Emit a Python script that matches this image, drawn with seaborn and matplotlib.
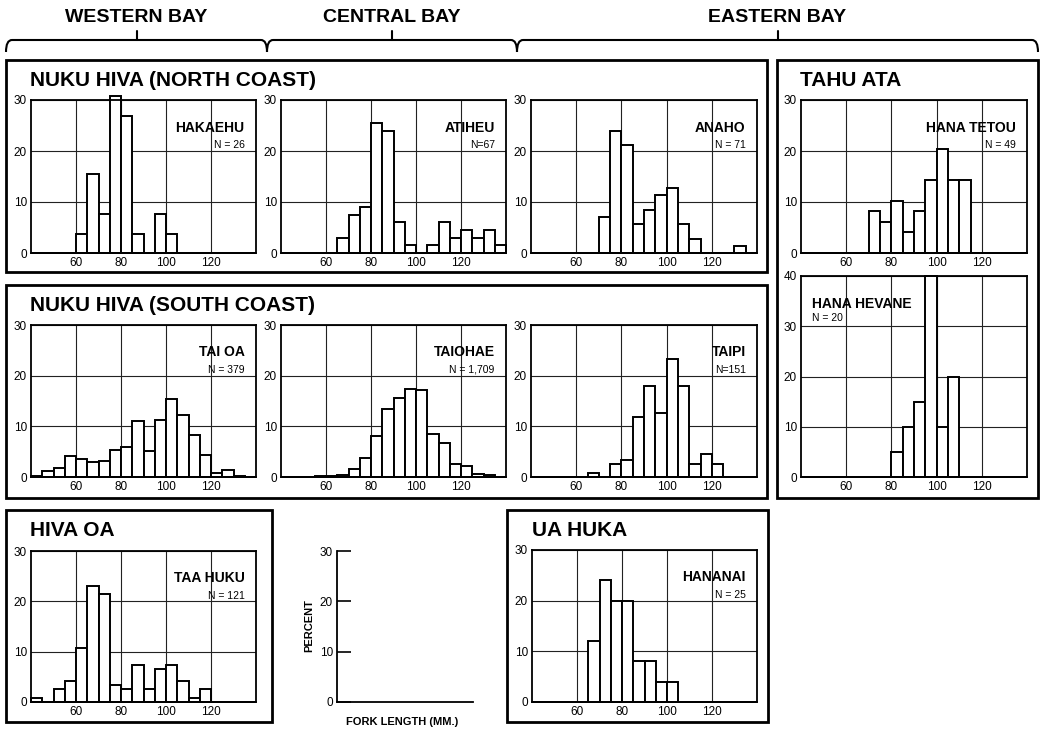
import numpy as np
import pandas as pd
import matplotlib
matplotlib.use("Agg")
import matplotlib.pyplot as plt
import seaborn as sns
from matplotlib.patches import Rectangle, PathPatch
from matplotlib.path import Path

# ---------------- data (percent per 5-mm fork-length class, 40-140 mm) -----
bin_edges = list(range(40, 145, 5))
bin_centers = [e + 2.5 for e in bin_edges[:-1]]

hakaehu = [0, 0, 0, 0, 3.8, 15.4, 7.7, 30.8, 26.9, 3.8, 0, 7.7, 3.8, 0, 0, 0, 0, 0, 0, 0]
atiheu = [0, 0, 0, 0, 0, 3.0, 7.5, 9.0, 25.4, 23.9, 6.0, 1.5, 0, 1.5, 6.0, 3.0, 4.5, 3.0, 4.5, 1.5]
anaho = [0, 0, 0, 0, 0, 0, 7.0, 23.9, 21.1, 5.6, 8.5, 11.3, 12.7, 5.6, 2.8, 0, 0, 0, 1.4, 0]
hana_tetou = [0, 0, 0, 0, 0, 0, 8.2, 6.1, 10.2, 4.1, 8.2, 14.3, 20.4, 14.3, 14.3, 0, 0, 0, 0, 0]
tai_oa = [0.2, 1.2, 1.7, 4.1, 3.5, 3.05, 3.25, 5.3, 6.0, 11.1, 5.1, 11.3, 15.3, 12.2, 8.2, 4.3, 0.7, 1.3, 0.2, 0]
taiohae = [0, 0, 0, 0.1, 0.2, 0.4, 1.5, 3.7, 8.1, 13.4, 15.6, 17.3, 17.1, 8.4, 6.8, 2.6, 2.1, 0.6, 0.4, 0]
taipi = [0, 0, 0, 0, 0, 0.7, 0, 2.6, 3.3, 11.9, 17.9, 12.6, 23.2, 17.9, 2.6, 4.6, 2.6, 0, 0, 0]
hana_hevane = [0, 0, 0, 0, 0, 0, 0, 0, 5, 10, 15, 40, 10, 20, 0, 0, 0, 0, 0, 0]
taa_huku = [0.8, 0, 2.5, 4.1, 10.7, 23.1, 21.5, 3.3, 2.5, 7.4, 2.5, 6.6, 7.4, 4.1, 0.8, 2.5, 0, 0, 0, 0]
hananai = [0, 0, 0, 0, 0, 12, 24, 20, 20, 8, 8, 4, 4, 0, 0, 0, 0, 0, 0, 0]

station_names = ["HAKAEHU", "ATIHEU", "ANAHO", "HANA TETOU", "TAI OA", "TAIOHAE",
                 "TAIPI", "HANA HEVANE", "TAA HUKU", "HANANAI"]
n_labels = ["N = 26", "N=67", "N = 71", "N = 49", "N = 379", "N = 1,709",
            "N=151", "N = 20", "N = 121", "N = 25"]
x_ticks = [60, 80, 100, 120]
group_titles = ["NUKU HIVA (NORTH COAST)", "TAHU ATA", "NUKU HIVA (SOUTH COAST)",
                "HIVA OA", "UA HUKA"]
bay_labels = ["WESTERN BAY", "CENTRAL BAY", "EASTERN BAY"]

# ---------------- style ----------------
sns.set_style("white")
plt.rcParams["font.family"] = ["Liberation Sans", "DejaVu Sans"]
plt.rcParams["text.color"] = "black"
plt.rcParams["axes.labelcolor"] = "black"
plt.rcParams["xtick.color"] = "black"
plt.rcParams["ytick.color"] = "black"

W, H = 1044, 730
fig = plt.figure(figsize=(W / 100, H / 100), dpi=100)
fig.patch.set_facecolor("white")


def add_ax(l, t, r, b):
    return fig.add_axes([l / W, 1 - b / H, (r - l) / W, (b - t) / H])


def px(x, y):
    return (x / W, 1 - y / H)


panels = [
    (hakaehu, (31, 100, 256, 253), 30, "right"),
    (atiheu, (281, 100, 506, 253), 30, "right"),
    (anaho, (531, 100, 757, 253), 30, "right"),
    (hana_tetou, (801, 100, 1027, 253), 30, "right"),
    (tai_oa, (31, 325, 256, 477), 30, "right"),
    (taiohae, (281, 325, 506, 477), 30, "right"),
    (taipi, (531, 325, 757, 477), 30, "right"),
    (hana_hevane, (801, 276, 1027, 477), 40, "left"),
    (taa_huku, (31, 551, 256, 702), 30, "right"),
    (hananai, (532, 550, 757, 702), 30, "right"),
]

for i, (pct, rect, ymax, side) in enumerate(panels):
    ax = add_ax(*rect)
    df = pd.DataFrame({"length": bin_centers, "pct": pct})
    sns.histplot(data=df, x="length", weights="pct", bins=bin_edges, ax=ax,
                 color="white", edgecolor="black", linewidth=1.4, alpha=1,
                 zorder=2, clip_on=False)
    ax.set_xlim(40, 140)
    ax.set_ylim(0, ymax)
    ax.set_xticks(x_ticks)
    ax.set_yticks(list(range(0, ymax + 1, 10)))
    ax.set_xticklabels([str(v) for v in x_ticks])
    ax.grid(True, color="#222222", linewidth=0.8)
    ax.set_axisbelow(True)
    ax.tick_params(length=0, labelsize=8.5, pad=3, colors="black")
    ax.set_xlabel("")
    ax.set_ylabel("")
    for s in ax.spines.values():
        s.set_visible(True)
        s.set_color("black")
        s.set_linewidth(1.3)
    if side == "right":
        ax.text(0.95, 0.82, station_names[i], transform=ax.transAxes,
                ha="right", va="center", fontsize=10, fontweight="bold")
        ax.text(0.95, 0.705, n_labels[i], transform=ax.transAxes,
                ha="right", va="center", fontsize=7.5)
    else:
        ax.text(0.05, 0.86, station_names[i], transform=ax.transAxes,
                ha="left", va="center", fontsize=10, fontweight="bold")
        ax.text(0.05, 0.79, n_labels[i], transform=ax.transAxes,
                ha="left", va="center", fontsize=7.5)

# ---------------- key axis ----------------
kax = add_ax(337, 551, 473, 702)
kax.set_xlim(40, 140)
kax.set_ylim(0, 30)
kax.set_xticks([])
kax.set_yticks([0, 10, 20, 30])
kax.tick_params(axis="y", left=True, direction="in", length=10, width=1.2,
                labelsize=8.5, pad=3, colors="black")
for s in ["top", "right"]:
    kax.spines[s].set_visible(False)
for s in ["left", "bottom"]:
    kax.spines[s].set_color("black")
    kax.spines[s].set_linewidth(1.3)
kax.set_facecolor("none")
fig.text(*px(309, 626), "PERCENT", rotation=90, ha="center", va="center",
         fontsize=8, fontweight="bold")
fig.text(*px(402, 722), "FORK LENGTH (MM.)", ha="center", va="center",
         fontsize=8, fontweight="bold")

# ---------------- group boxes ----------------
boxes = [(6, 60, 767, 272), (777, 60, 1038, 498), (6, 285, 767, 498),
         (6, 510, 272, 722), (507, 510, 768, 722)]
title_pos = [(30, 81), (800, 81), (30, 306), (30, 531), (532, 531)]
for (l, t, r, b), title, (tx, ty) in zip(boxes, group_titles, title_pos):
    fig.add_artist(Rectangle(px(l, b), (r - l) / W, (b - t) / H,
                             transform=fig.transFigure, fill=False,
                             edgecolor="black", linewidth=2))
    fig.text(*px(tx, ty), title, ha="left", va="center",
             fontsize=15, fontweight="bold")

# ---------------- bay braces ----------------
brace_spans = [(6, 267), (267, 517), (517, 1038)]
yb, drop, rise, rr = 40, 12, 9, 6
for (x0, x1), lab in zip(brace_spans, bay_labels):
    verts = [px(x0, yb + drop), px(x0, yb), px(x0 + rr, yb),
             px(x1 - rr, yb), px(x1, yb), px(x1, yb + drop)]
    codes = [Path.MOVETO, Path.CURVE3, Path.CURVE3,
             Path.LINETO, Path.CURVE3, Path.CURVE3]
    fig.add_artist(PathPatch(Path(verts, codes), transform=fig.transFigure,
                             fill=False, edgecolor="black", linewidth=1.5))
    mid = (x0 + x1) / 2
    fig.add_artist(plt.Line2D([mid / W, mid / W], [1 - yb / H, 1 - (yb - rise) / H],
                              transform=fig.transFigure, color="black", linewidth=1.5))
    fig.text(*px(mid, 17.5), lab, ha="center", va="center",
             fontsize=14, fontweight="bold")

fig.savefig("out.png", dpi=100, facecolor="white")
